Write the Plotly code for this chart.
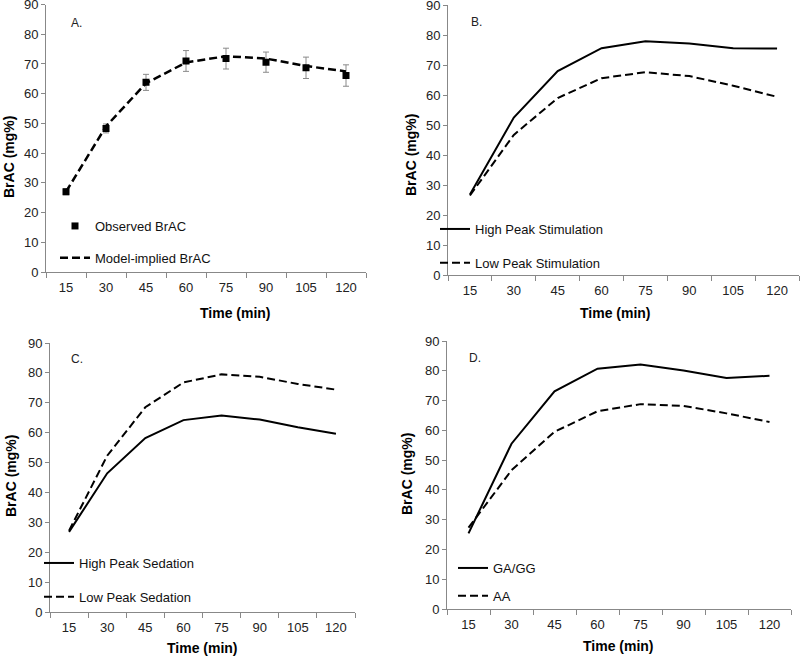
import plotly.graph_objects as go

# --- data ---
times = ["15", "30", "45", "60", "75", "90", "105", "120"]

obs_brac = [27.0, 48.3, 63.8, 71.0, 71.8, 70.6, 68.7, 66.1]
obs_err = [1.0, 1.5, 2.7, 3.5, 3.5, 3.4, 3.6, 3.6]
model_brac = [27.0, 49.0, 63.5, 70.5, 72.6, 71.8, 69.3, 67.5]

stim_high = [26.8, 52.5, 68.0, 75.6, 77.9, 77.2, 75.6, 75.5]
stim_low = [26.5, 46.7, 59.0, 65.6, 67.6, 66.3, 63.1, 59.4]

sed_high = [26.8, 46.4, 58.2, 64.2, 65.7, 64.4, 61.8, 59.6]
sed_low = [27.2, 52.3, 68.5, 76.8, 79.5, 78.7, 76.3, 74.4]

geno_gg = [25.4, 55.5, 73.1, 80.7, 82.1, 80.1, 77.6, 78.3]
geno_aa = [27.3, 46.6, 59.5, 66.4, 68.8, 68.2, 65.7, 62.8]

FONT = "Liberation Sans, Arial, sans-serif"
DASH = "8px,4px"

fig = go.Figure()

# A. observed vs model-implied
fig.add_trace(go.Scatter(
    x=times, y=obs_brac, mode="markers", name="Observed BrAC",
    marker=dict(symbol="square", size=7, color="black"),
    error_y=dict(type="data", array=obs_err, color="#8a8a8a", thickness=1, width=3),
    xaxis="x", yaxis="y", legend="legend", legendgroup="a1"
))
fig.add_trace(go.Scatter(
    x=times, y=model_brac, mode="lines", name="Model-implied BrAC",
    line=dict(color="black", width=2.5, dash=DASH),
    xaxis="x", yaxis="y", legend="legend", legendgroup="a2"
))

# B. stimulation
fig.add_trace(go.Scatter(
    x=times, y=stim_high, mode="lines", name="High Peak Stimulation",
    line=dict(color="black", width=2),
    xaxis="x2", yaxis="y2", legend="legend2", legendgroup="b1"
))
fig.add_trace(go.Scatter(
    x=times, y=stim_low, mode="lines", name="Low Peak Stimulation",
    line=dict(color="black", width=2, dash=DASH),
    xaxis="x2", yaxis="y2", legend="legend2", legendgroup="b2"
))

# C. sedation
fig.add_trace(go.Scatter(
    x=times, y=sed_high, mode="lines", name="High Peak Sedation",
    line=dict(color="black", width=2),
    xaxis="x3", yaxis="y3", legend="legend3", legendgroup="c1"
))
fig.add_trace(go.Scatter(
    x=times, y=sed_low, mode="lines", name="Low Peak Sedation",
    line=dict(color="black", width=2, dash=DASH),
    xaxis="x3", yaxis="y3", legend="legend3", legendgroup="c2"
))

# D. genotype
fig.add_trace(go.Scatter(
    x=times, y=geno_gg, mode="lines", name="GA/GG",
    line=dict(color="black", width=2),
    xaxis="x4", yaxis="y4", legend="legend4", legendgroup="d1"
))
fig.add_trace(go.Scatter(
    x=times, y=geno_aa, mode="lines", name="AA",
    line=dict(color="black", width=2, dash=DASH),
    xaxis="x4", yaxis="y4", legend="legend4", legendgroup="d2"
))

W, H = 800, 656
# pixel boxes: (left, right, top, bottom)
boxes = {
    "": (46, 366, 4.5, 272),
    "2": (448, 799, 5, 275),
    "3": (50, 355, 343, 612),
    "4": (447, 791, 341, 609),
}

xax = dict(type="category", range=[-0.5, len(times) - 0.5], tickson="boundaries",
           ticks="outside", ticklen=5, tickcolor="#888", showline=True, linecolor="#888",
           linewidth=1, showgrid=False, zeroline=False, automargin=False,
           ticklabelstandoff=3, ticklabeloverflow="allow",
           tickfont=dict(size=13, color="#222"))
yax = dict(range=[0, 90], dtick=10, ticks="outside", ticklen=4, tickcolor="#888",
           showline=True, linecolor="#888", linewidth=1, showgrid=False,
           zeroline=False, automargin=False, ticklabeloverflow="allow",
           tickfont=dict(size=13, color="#222"))

layout = {}
for k, (l, r, t, b) in boxes.items():
    layout["xaxis" + k] = dict(xax, domain=[l / W, r / W], anchor="y" + k)
    layout["yaxis" + k] = dict(yax, domain=[1 - b / H, 1 - t / H], anchor="x" + k)

fig.update_layout(**layout)

# legends inside each panel
leg = dict(bgcolor="rgba(0,0,0,0)", font=dict(size=13, color="#111"),
           tracegroupgap=12, itemwidth=30, xanchor="left", yanchor="top")
fig.update_layout(
    legend=dict(leg, x=55 / W, y=1 - 211 / H),
    legend2=dict(leg, x=435 / W, y=1 - 214 / H, tracegroupgap=14),
    legend3=dict(leg, x=39 / W, y=1 - 548 / H, tracegroupgap=14),
    legend4=dict(leg, x=453 / W, y=1 - 553 / H, tracegroupgap=8),
)

# axis titles and panel letters as annotations
titles = [
    # (x_px, y_px, text, angle)
    (235, 313, "Time (min)", 0),
    (615, 313, "Time (min)", 0),
    (203, 648, "Time (min)", 0),
    (618, 646, "Time (min)", 0),
    (9, 157, "BrAC (mg%)", -90),
    (411, 155, "BrAC (mg%)", -90),
    (11, 476, "BrAC (mg%)", -90),
    (407, 474, "BrAC (mg%)", -90),
]
ann = []
for x, y, txt, ang in titles:
    ann.append(dict(x=x / W, y=1 - y / H, xref="paper", yref="paper", text="<b>%s</b>" % txt,
                    showarrow=False, textangle=ang, font=dict(size=14, color="black"),
                    xanchor="center", yanchor="middle"))

letters = [(69, 23, "A."), (469, 22, "B."), (69, 359, "C."), (467, 358, "D.")]
for x, y, txt in letters:
    ann.append(dict(x=x / W, y=1 - y / H, xref="paper", yref="paper", text=txt,
                    showarrow=False, font=dict(size=12, color="#222"),
                    xanchor="left", yanchor="middle"))

fig.update_layout(
    annotations=ann,
    width=W, height=H,
    margin=dict(l=0, r=0, t=0, b=0, autoexpand=False),
    paper_bgcolor="white", plot_bgcolor="white",
    font=dict(family=FONT, color="black"),
    showlegend=True,
)

# page body has a default 8px margin; drop it so the figure sits at the window corner
fig.write_html("out.html", config={"displayModeBar": False},
               post_script="document.body.style.margin='0px';")
